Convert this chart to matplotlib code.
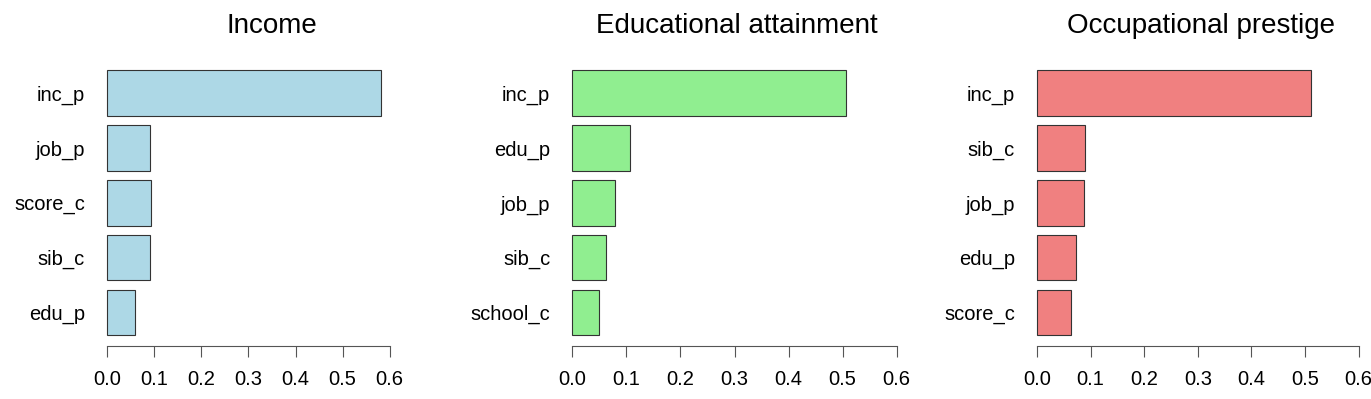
import matplotlib
matplotlib.use('Agg')
import numpy as np
import matplotlib.pyplot as plt

plt.rcParams['font.family'] = ['Liberation Sans', 'DejaVu Sans']

# variable importance, listed top to bottom as in the chart
income_vars = ["inc_p", "job_p", "score_c", "sib_c", "edu_p"]
income_vals = [0.582, 0.091, 0.092, 0.090, 0.060]

edu_vars = ["inc_p", "edu_p", "job_p", "sib_c", "school_c"]
edu_vals = [0.507, 0.106, 0.078, 0.063, 0.049]

occ_vars = ["inc_p", "sib_c", "job_p", "edu_p", "score_c"]
occ_vals = [0.511, 0.090, 0.088, 0.072, 0.063]

titles = ["Income", "Educational attainment", "Occupational prestige"]
colors = ["#ADD8E6", "#90EE90", "#F08080"]
xticks = [0.0, 0.1, 0.2, 0.3, 0.4, 0.5, 0.6]

panels = [(income_vars, income_vals), (edu_vars, edu_vals), (occ_vars, occ_vals)]
lefts = [0.0686, 0.4079, 0.7468]

fig = plt.figure(figsize=(13.71, 3.99), dpi=100)

for i, (names, vals) in enumerate(panels):
    ax = fig.add_axes([lefts[i], 0.1331, 0.259, 0.7173])
    names = names[::-1]
    vals = vals[::-1]
    ypos = 0.7 + 1.2 * np.arange(len(vals))
    ax.barh(ypos, vals, height=1.0, color=colors[i], edgecolor='#333333', linewidth=0.8)
    lim = 1.2 * max(vals)
    ax.set_xlim(-0.04 * lim, lim * 1.04)
    ax.set_ylim(-0.032, 6.232)
    ax.set_yticks(ypos)
    ax.set_yticklabels(names, fontsize=14.5)
    ax.tick_params(axis='y', length=0, pad=6.5)
    ax.set_xticks(xticks)
    ax.set_xticklabels(["%.1f" % t for t in xticks], fontsize=14.5)
    ax.tick_params(axis='x', length=8, width=0.8, color='#555555', pad=9)
    for s in ['top', 'right', 'left']:
        ax.spines[s].set_visible(False)
    ax.spines['bottom'].set_bounds(0, 0.6)
    ax.spines['bottom'].set_color('#555555')
    ax.spines['bottom'].set_linewidth(0.8)
    ax.set_title(titles[i], fontsize=20, pad=19)

plt.savefig('out.png', dpi=100)
